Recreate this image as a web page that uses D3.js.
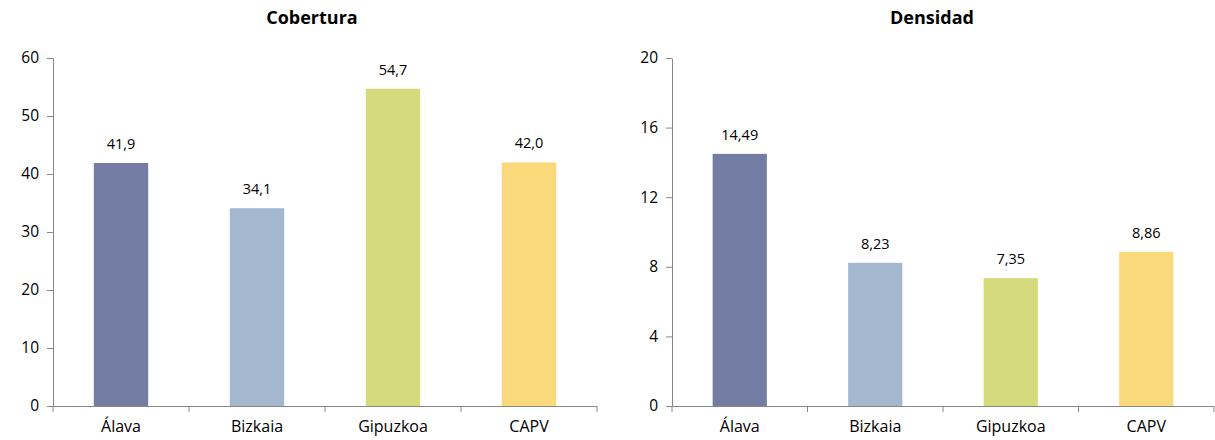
<!DOCTYPE html>
<html><head><meta charset="utf-8">
<script src="https://cdn.jsdelivr.net/npm/d3@7"></script>
<style>body{margin:0;background:#fff;}svg{display:block;font-family:"Open Sans",sans-serif;}</style>
</head><body><svg id="c" width="1215" height="440"></svg>
<script>
const categories = ["Álava","Bizkaia","Gipuzkoa","CAPV"];
const colors = ["#737da3","#a3b8cf","#d5db7d","#f9d97c"];
const coberturaValues = [41.9,34.1,54.7,42.0];
const densidadValues = [14.49,8.23,7.35,8.86];
const coberturaTicks = [0,10,20,30,40,50,60];
const densidadTicks = [0,4,8,12,16,20];

const svg = d3.select("#c");
const FF = "'Open Sans',sans-serif";
const fmt = (v,d)=> v.toFixed(d).replace(".",",");

function panel(title, values, ticks, decimals, x0, x1, titleX){
  const y = d3.scaleLinear().domain([0,d3.max(ticks)]).range([406,58]);
  const x = d3.scaleBand().domain(categories).range([x0,x1]).paddingInner(0.6).paddingOuter(0.3);
  const g = svg.append("g");
  g.append("text").attr("x",titleX).attr("y",24).attr("text-anchor","middle")
    .attr("font-weight","bold").attr("font-size",18).text(title);
  g.selectAll("rect").data(values).join("rect")
    .attr("x",(d,i)=>x(categories[i])).attr("width",x.bandwidth())
    .attr("y",d=>y(d)).attr("height",d=>y(0)-y(d)).attr("fill",(d,i)=>colors[i]);
  g.selectAll(".lbl").data(values).join("text").attr("class","lbl")
    .attr("x",(d,i)=>x(categories[i])+x.bandwidth()/2).attr("y",d=>y(d)-14)
    .attr("text-anchor","middle").attr("font-size",14.5).attr("fill","#000").text(d=>fmt(d,decimals));
  const ya = g.append("g").attr("transform",`translate(${x0},0)`)
    .call(d3.axisLeft(y).tickValues(ticks).tickSize(6).tickSizeOuter(0).tickPadding(8));
  ya.select(".domain").attr("stroke","#888");
  ya.selectAll(".tick line").attr("stroke","#888");
  ya.selectAll(".tick text").attr("font-size",15.5).attr("font-family",FF).attr("fill","#000");
  const xa = g.append("g").attr("transform",`translate(0,${y(0)})`)
    .call(d3.axisBottom(x).tickSize(0).tickPadding(15));
  xa.select(".domain").attr("stroke","#888").attr("d",`M${x0},0.5H${x1}`);
  xa.selectAll(".tick text").attr("font-size",16).attr("font-family",FF).attr("fill","#000");
  const step = (x1-x0)/categories.length;
  const bounds = d3.range(categories.length+1).map(i=>x0+i*step);
  g.selectAll(".xt").data(bounds).join("line").attr("class","xt")
    .attr("x1",d=>d).attr("x2",d=>d).attr("y1",y(0)).attr("y2",y(0)+6).attr("stroke","#888");
}
panel("Cobertura", coberturaValues, coberturaTicks, 1, 53, 597, 312);
panel("Densidad", densidadValues, densidadTicks, 2, 672, 1214, 932);
</script></body></html>
